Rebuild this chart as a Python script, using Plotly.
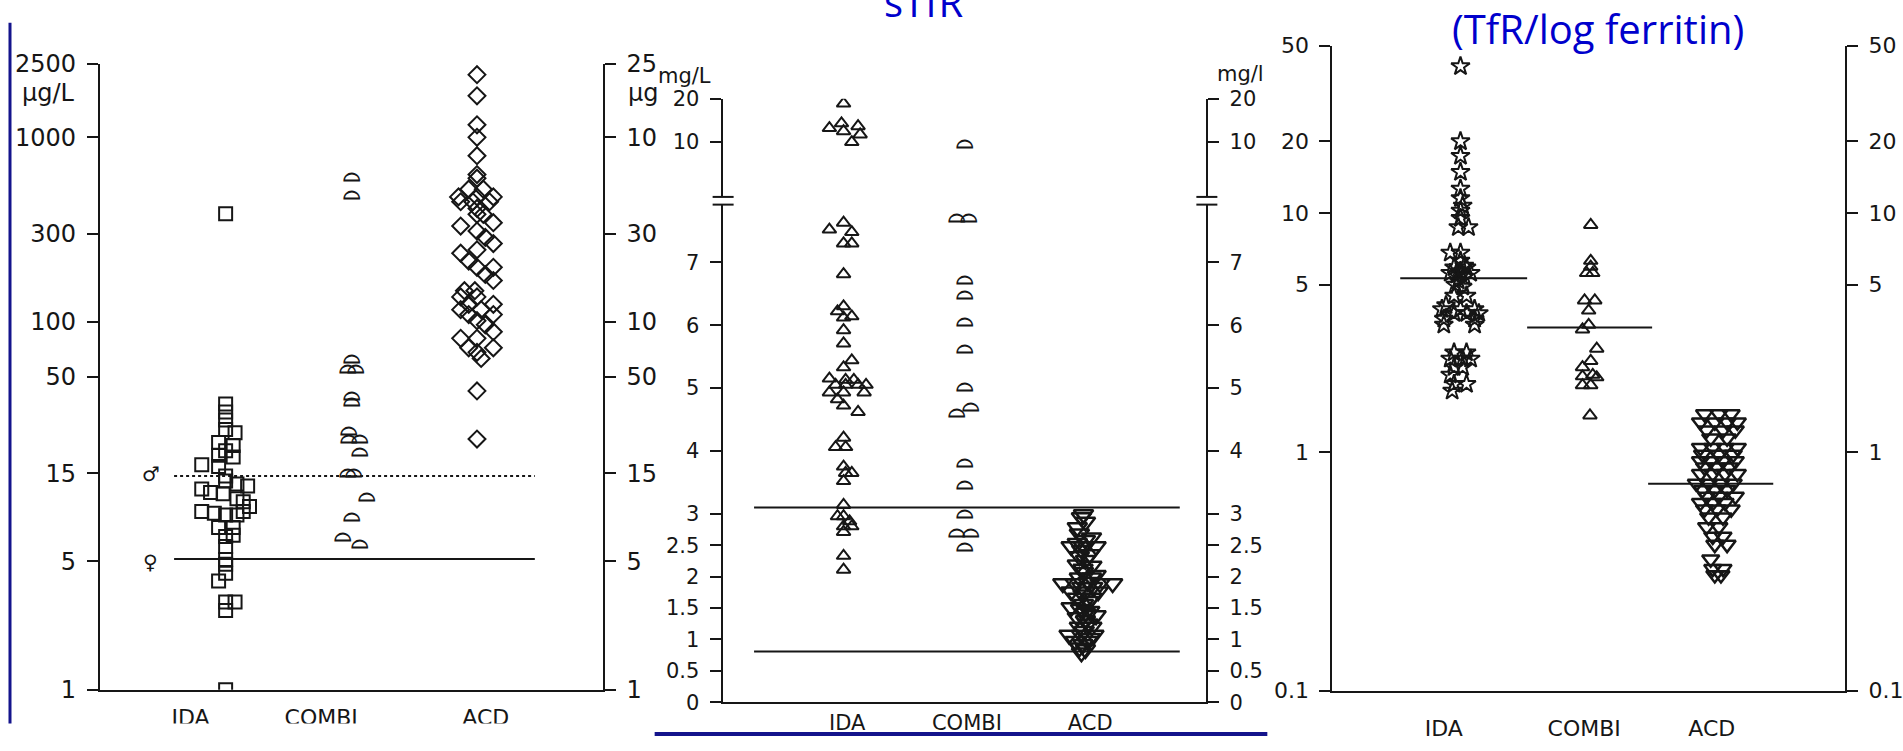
import math
import plotly.graph_objects as go

W, H = 1903, 751

GROUPS = ["IDA", "COMBI", "ACD"]

# ---------- Serum ferritin (µg/L), log scale ----------
fer_ida = [385, 35.7, 32.3, 29.2, 25.9, 24.9, 22.0, 21.2, 19.9, 18.8, 18.4, 16.7, 16.3,
           14.5, 13.6, 13.1, 12.8, 12.3, 11.8, 11.6, 10.9, 10.5, 9.9, 9.3, 9.1, 8.9, 8.9,
           9.3, 7.6, 7.6, 6.9, 6.8, 6.0, 5.1, 4.8, 4.3, 3.9, 3.0, 3.0, 2.7, 1.0]
fer_ida_dx = [0, 0, 0, 0, 0, 0.075, -0.056, 0.06, 0, -0.056, 0.06, -0.19, -0.056,
              0, 0, 0.09, 0.175, -0.19, -0.12, -0.02, 0.09, 0.14, 0.19, -0.19, -0.09, 0, 0.09,
              0.14, -0.056, 0.06, 0.06, 0, 0, 0, 0, 0, -0.056, 0, 0.075, 0, 0]
fer_combi = [617, 498, 63.8, 56.6, 56.6, 40.3, 37.1, 25.8, 23.4, 23.4, 20.0, 15.4, 15.4,
             11.4, 8.8, 6.9, 6.3]
fer_combi_dx = [0, 0, 0, -0.03, 0.03, 0, 0, -0.02, -0.02, 0.064, 0.064, -0.03, 0.015,
                0.12, 0, -0.07, 0.064]
fer_acd = [2190, 1680, 1170, 1000, 795, 628, 600, 523, 523, 475, 475, 475, 447, 447, 447,
           411, 382, 382, 344, 330, 310, 286, 265, 245, 235, 213, 197, 197, 180, 167,
           147, 147, 136, 136, 124, 124, 116, 116, 109, 109, 101, 96, 88, 81, 81, 72, 72,
           68, 63, 42, 23]
fer_acd_dx = [0, 0, 0, 0, 0, 0, 0, -0.066, 0.05, -0.147, 0, 0.13, -0.13, -0.033, 0.1,
              0, 0, 0.05, 0.13, -0.13, 0, 0.066, 0.13, 0, -0.13, -0.066, 0, 0.13, 0.066, 0.13,
              -0.1, -0.017, -0.13, 0, -0.066, 0.13, -0.13, 0.033, -0.066, 0.13, 0, 0.066, 0.13,
              -0.13, 0, -0.066, 0.13, 0, 0.033, 0, 0]
fer_ticks = [2500, 1000, 300, 100, 50, 15, 5, 1]
fer_ticks_right = ["25", "10", "30", "10", "50", "15", "5", "1"]
fer_cut_male = 14.5
fer_cut_female = 5.14
fer_cut_x = [0.59, 3.46]
fer_label_x = [0.72, 1.76, 3.07]

# ---------- sTfR (mg/L), broken axis ----------
stfr_ida = [18.5, 13.5, 12.9, 12.5, 11.9, 11.3, 10.0,
            7.63, 7.52, 7.48, 7.3, 7.3, 6.81, 6.3, 6.22, 6.14, 6.12, 5.92, 5.71, 5.44, 5.33,
            5.15, 5.13, 5.13, 5.05, 5.05, 5.05, 5.05, 4.93, 4.93, 4.93, 4.82, 4.72, 4.62,
            4.21, 4.06, 4.06, 3.75, 3.65, 3.65, 3.52, 3.14, 2.96, 2.96, 2.88, 2.8, 2.8,
            2.71, 2.33, 2.11]
stfr_ida_dx = [0, -0.017, 0.12, -0.117, 0, 0.137, 0.068,
               0, -0.117, 0.068, 0, 0.068, 0, 0, -0.05, 0.068, 0, 0, 0, 0.068, 0,
               -0.117, 0.017, 0.085, -0.066, 0.017, 0.12, 0.186, -0.117, 0, 0.17, -0.05, 0, 0.12,
               0, -0.066, 0.017, 0, 0.017, 0.068, 0, 0, -0.05, 0, 0.05, 0, 0.068,
               0, 0, 0]
stfr_combi = [10.0, 7.73, 7.73, 6.74, 6.51, 6.08, 5.64, 5.04, 4.72, 4.62, 3.83, 3.48,
              3.02, 2.71, 2.71, 2.5]
stfr_combi_dx = [0, -0.07, 0.034, 0, 0, 0, 0, 0, 0.05, -0.07, 0, 0, 0, -0.07, 0.05, 0]
stfr_acd = [2.99, 2.94, 2.87, 2.78, 2.68, 2.62, 2.58, 2.53, 2.48, 2.48, 2.48, 2.42, 2.35,
            2.32, 2.26, 2.19, 2.17, 2.12, 2.07, 2.02, 1.98, 1.98, 1.91, 1.89, 1.89, 1.89,
            1.89, 1.83, 1.83, 1.76, 1.76, 1.76, 1.71, 1.66, 1.66, 1.61, 1.56, 1.51, 1.48,
            1.45, 1.42, 1.38, 1.35, 1.30, 1.25, 1.20, 1.20, 1.13, 1.07, 1.07, 1.07, 1.02,
            0.97, 0.97, 0.92, 0.87, 0.84, 0.79]
stfr_acd_dx = [-0.016, -0.033, 0, -0.067, -0.05, 0.05, 0, -0.067, -0.118, -0.016, 0.088,
               -0.03, 0.036, -0.05, 0, -0.067, 0.053, -0.02, -0.016, 0.088, -0.05, 0.05,
               0.019, -0.187, -0.084, 0.12, 0.225, -0.03, 0.06, -0.118, 0, 0.105, -0.02,
               -0.067, 0.053, 0.03, -0.016, -0.118, -0.04, 0.036, 0, 0.088, -0.067, 0,
               0.02, -0.05, 0.053, -0.01, -0.135, -0.033, 0.07, 0.04, -0.084, 0.019, -0.02,
               -0.05, 0, -0.033]
stfr_break = 8.0
stfr_low_ticks = [0, 0.5, 1, 1.5, 2, 2.5, 3, 4, 5, 6, 7]
stfr_high_ticks = [10, 20]
stfr_cut_high = 3.10
stfr_cut_low = 0.81
stfr_cut_x = [0.26, 3.78]
stfr_label_x = [1.03, 2.02, 3.04]

# ---------- sTfR index (TfR / log ferritin), log scale ----------
ratio_ida = [41, 19.9, 17.3, 14.8, 12.6, 11.5, 10.7, 10.2, 9.5, 8.7, 8.7, 6.8, 6.8, 6.3,
             6.0, 5.9, 5.9, 5.7, 5.6, 5.6, 5.6, 5.5, 5.4, 5.2, 5.0, 4.9, 4.5, 4.5, 4.1,
             3.95, 3.95, 3.95, 3.8, 3.8, 3.8, 3.6, 3.6, 3.4, 3.4, 2.6, 2.6, 2.45, 2.45,
             2.45, 2.26, 2.26, 2.1, 1.92, 1.92, 1.8]
ratio_ida_dx = [0, 0, 0, 0, 0, 0, 0.017, 0, 0, -0.017, 0.063, -0.08, 0, 0,
                0.03, -0.05, 0.047, 0, -0.08, 0, 0.079, -0.03, 0.03, -0.017, -0.04, 0.017,
                -0.05, 0.047, -0.113, -0.145, 0, 0.11, -0.05, 0.047, 0.143, -0.13, 0.11,
                -0.13, 0.11, -0.05, 0.047, -0.08, 0.017, 0.079, -0.05, 0.017, -0.08, -0.05,
                0.047, -0.065]
ratio_combi = [8.9, 6.3, 5.95, 5.6, 5.6, 4.3, 4.3, 3.9, 3.4, 3.25, 2.7, 2.4, 2.26, 2.1,
               2.07, 2.05, 1.9, 1.9, 1.42]
ratio_combi_dx = [0.016, 0.016, 0.016, -0.016, 0.032, -0.032, 0.048, 0, 0, -0.048, 0.063,
                  0.016, -0.048, 0.032, -0.048, 0.063, -0.048, 0.016, 0.01]
ratio_acd = [1.44, 1.44, 1.44, 1.33, 1.33, 1.33, 1.33, 1.23, 1.23, 1.23, 1.14, 1.14,
             1.04, 1.04, 1.04, 1.04, 0.975, 0.975, 0.975, 0.916, 0.916, 0.916, 0.916,
             0.861, 0.861, 0.861, 0.81, 0.81, 0.81, 0.81, 0.737, 0.737, 0.737, 0.737,
             0.692, 0.692, 0.692, 0.65, 0.65, 0.65, 0.612, 0.612, 0.612, 0.575, 0.575,
             0.575, 0.532, 0.532, 0.485, 0.485, 0.442, 0.442, 0.409, 0.409, 0.355, 0.324,
             0.324, 0.305, 0.305]
ratio_acd_dx = [-0.096, 0.016, 0.112, -0.128, -0.016, 0.08, 0.16, -0.08, 0.048, 0.144,
                -0.048, 0.08, -0.128, -0.032, 0.064, 0.16, -0.112, 0.016, 0.128, -0.128,
                -0.048, 0.048, 0.144, -0.096, 0, 0.096, -0.128, -0.032, 0.064, 0.16, -0.16,
                -0.064, 0.032, 0.128, -0.112, -0.016, 0.08, -0.08, 0.016, 0.144, -0.128,
                -0.032, 0.064, -0.096, 0, 0.112, -0.064, 0.048, -0.08, 0.016, -0.032,
                0.048, -0.016, 0.08, -0.048, -0.032, 0.048, -0.016, 0.032]
ratio_ticks = [50, 20, 10, 5, 1, 0.1]
ratio_median = {"IDA": (5.32, [0.53, 1.52]), "COMBI": (3.31, [1.52, 2.495]),
                "ACD": (0.735, [2.464, 3.44])}
ratio_label_x = [0.87, 1.965, 2.96]

# ---------- layout geometry (pixels) ----------
P1 = dict(left=100, right=603, top=52, bottom=702)
P2 = dict(left=723, right=1207, top=88, gap_top=190, gap_bottom=198, bottom=715)
P3 = dict(left=1333, right=1846, top=33, bottom=703)

INK = "#161616"
BLUE_TXT = "#0000cc"
BLUE_LINE = "#14148c"
FONT = "DejaVu Sans"


def fx(p):
    return p / W


def fy(p):
    return 1 - p / H


def xs(center, dx):
    return [center + d for d in dx]


fig = go.Figure()


def pts(x, y, xa, ya, symbol, size, lw=2):
    fig.add_trace(go.Scatter(
        x=x, y=y, xaxis=xa, yaxis=ya, mode="markers", showlegend=False, hoverinfo="skip",
        marker=dict(symbol=symbol, size=size, color=INK, line=dict(color=INK, width=lw))))


def domes(x, y, xa, ya, size):
    fig.add_trace(go.Scatter(
        x=x, y=y, xaxis=xa, yaxis=ya, mode="text", text=["\u2313"] * len(y),
        textposition="middle center", showlegend=False, hoverinfo="skip",
        textfont=dict(family=FONT, size=size, color=INK, weight="bold")))


def hline(xr, v, xa, ya, dash="solid"):
    fig.add_trace(go.Scatter(
        x=xr, y=[v, v], xaxis=xa, yaxis=ya, mode="lines", showlegend=False,
        hoverinfo="skip", line=dict(color=INK, width=2, dash=dash)))


def axis_holder(xa, ya):
    # empty trace so the mirrored right-hand scale is drawn
    fig.add_trace(go.Scatter(x=[None], y=[None], xaxis=xa, yaxis=ya, mode="markers",
                             showlegend=False, hoverinfo="skip"))


# panel 1: ferritin
pts(xs(1, fer_ida_dx), fer_ida, "x", "y", "square-open", 13)
domes(xs(2, fer_combi_dx), fer_combi, "x", "y", 22)
pts(xs(3, fer_acd_dx), fer_acd, "x", "y", "diamond-open", 13)
hline(fer_cut_x, fer_cut_male, "x", "y", dash="3px,3px")
hline(fer_cut_x, fer_cut_female, "x", "y")
axis_holder("x", "y2")


# panel 2: sTfR, values above the break go on the upper axis
def split(vals, dx, center):
    lo = [(center + d, v) for v, d in zip(vals, dx) if v < stfr_break]
    hi = [(center + d, v) for v, d in zip(vals, dx) if v >= stfr_break]
    return lo, hi


for vals, dx, c, kind in [(stfr_ida, stfr_ida_dx, 1, "tri"),
                          (stfr_combi, stfr_combi_dx, 2, "dome"),
                          (stfr_acd, stfr_acd_dx, 3, "inv")]:
    lo, hi = split(vals, dx, c)
    for part, ya in [(lo, "y3"), (hi, "y5")]:
        if not part:
            continue
        px_, py_ = [p[0] for p in part], [p[1] for p in part]
        if kind == "tri":
            pts(px_, py_, "x2", ya, "triangle-up-open", 12)
        elif kind == "dome":
            domes(px_, py_, "x2", ya, 22)
        else:
            pts(px_, py_, "x2", ya, "triangle-down-open", 17, lw=2.5)
hline(stfr_cut_x, stfr_cut_high, "x2", "y3")
hline(stfr_cut_x, stfr_cut_low, "x2", "y3")
axis_holder("x2", "y4")
axis_holder("x2", "y6")

# panel 3: TfR / log ferritin
pts(xs(1, ratio_ida_dx), ratio_ida, "x3", "y7", "star-open", 14)
pts(xs(2, ratio_combi_dx), ratio_combi, "x3", "y7", "triangle-up-open", 12)
pts(xs(3, ratio_acd_dx), ratio_acd, "x3", "y7", "triangle-down-open", 15, lw=2.5)
for g in GROUPS:
    v, xr = ratio_median[g]
    hline(xr, v, "x3", "y7")
axis_holder("x3", "y8")

# ---------- axes ----------
axis_common = dict(showline=True, linewidth=2, linecolor=INK, showgrid=False,
                   zeroline=False, fixedrange=True)
yax_common = dict(axis_common, ticks="outside", ticklen=11, tickwidth=2, tickcolor=INK,
                  ticklabelstandoff=6)


def xaxis(dom, anchor, labels_x, standoff, size):
    return dict(axis_common, domain=[fx(dom[0]), fx(dom[1])], anchor=anchor, range=[0, 4],
                ticks="", tickvals=labels_x, ticktext=GROUPS, ticklabelstandoff=standoff,
                tickfont=dict(family=FONT, size=size, color=INK))


fer_rng = [0, math.log10(2500)]
px_per_unit = 65.3
low_rng = [0, (P2["bottom"] - P2["gap_bottom"]) / px_per_unit]
px_per_dec = 149.5
hi_rng = [math.log10(20) - (P2["gap_top"] - P2["top"]) / px_per_dec, math.log10(20)]
ratio_rng = [-1, math.log10(50)]


def fmt(v):
    return "%g" % v


def tfont(size):
    return dict(family=FONT, size=size, color=INK)


fig.update_layout(
    width=W, height=H, autosize=False, margin=dict(l=0, r=0, t=0, b=0),
    paper_bgcolor="white", plot_bgcolor="rgba(0,0,0,0)",
    xaxis=xaxis((P1["left"], P1["right"]), "y", fer_label_x, 7, 22),
    yaxis=dict(yax_common, domain=[fy(P1["bottom"]), fy(P1["top"])], anchor="x",
               type="log", range=fer_rng, tickvals=fer_ticks,
               ticktext=[fmt(v) for v in fer_ticks], tickfont=tfont(24)),
    yaxis2=dict(yax_common, overlaying="y", side="right", anchor="x", type="log",
                range=fer_rng, tickvals=fer_ticks, ticktext=fer_ticks_right,
                tickfont=tfont(24)),
    xaxis2=xaxis((P2["left"], P2["right"]), "y3", stfr_label_x, 0, 21),
    yaxis3=dict(yax_common, domain=[fy(P2["bottom"]), fy(P2["gap_bottom"])], anchor="x2",
                range=low_rng, tickvals=stfr_low_ticks,
                ticktext=[fmt(v) for v in stfr_low_ticks], tickfont=tfont(21)),
    yaxis4=dict(yax_common, overlaying="y3", side="right", anchor="x2", range=low_rng,
                tickvals=stfr_low_ticks, ticktext=[fmt(v) for v in stfr_low_ticks],
                tickfont=tfont(21)),
    yaxis5=dict(yax_common, domain=[fy(P2["gap_top"]), fy(P2["top"])], anchor="x2",
                type="log", range=hi_rng, tickvals=stfr_high_ticks,
                ticktext=[fmt(v) for v in stfr_high_ticks], tickfont=tfont(21)),
    yaxis6=dict(yax_common, overlaying="y5", side="right", anchor="x2", type="log",
                range=hi_rng, tickvals=stfr_high_ticks,
                ticktext=[fmt(v) for v in stfr_high_ticks], tickfont=tfont(21)),
    xaxis3=xaxis((P3["left"], P3["right"]), "y7", ratio_label_x, 17, 22),
    yaxis7=dict(yax_common, domain=[fy(P3["bottom"]), fy(P3["top"])], anchor="x3",
                type="log", range=ratio_rng, tickvals=ratio_ticks,
                ticktext=[fmt(v) for v in ratio_ticks], tickfont=tfont(22)),
    yaxis8=dict(yax_common, overlaying="y7", side="right", anchor="x3", type="log",
                range=ratio_rng, tickvals=ratio_ticks,
                ticktext=[fmt(v) for v in ratio_ticks], tickfont=tfont(22)),
)

# ---------- decorations ----------
shapes = []
# axis-break marks on both sides of the sTfR panel
for xc in (P2["left"], P2["right"]):
    for yb in (P2["gap_top"], P2["gap_bottom"]):
        shapes.append(dict(type="line", xref="paper", yref="paper",
                           x0=fx(xc - 10), x1=fx(xc + 11), y0=fy(yb), y1=fy(yb),
                           line=dict(color=INK, width=2)))
# blank strip under the ferritin panel
shapes.append(dict(type="rect", xref="paper", yref="paper", x0=0, x1=fx(652),
                   y0=0, y1=fy(737), fillcolor="white", line=dict(width=0), layer="above"))
# slide rules in blue
shapes.append(dict(type="line", xref="paper", yref="paper", x0=fx(10), x1=fx(10),
                   y0=fy(9), y1=fy(737), line=dict(color=BLUE_LINE, width=3)))
shapes.append(dict(type="line", xref="paper", yref="paper", x0=fx(655), x1=fx(1268),
                   y0=fy(748), y1=fy(748), line=dict(color=BLUE_LINE, width=4)))
fig.update_layout(shapes=shapes)

ann = []


def note(text, x, y, size, xanchor="center", yanchor="middle", color=INK, family=FONT):
    ann.append(dict(text=text, x=fx(x), y=fy(y), xref="paper", yref="paper",
                    showarrow=False, xanchor=xanchor, yanchor=yanchor,
                    font=dict(family=family, size=size, color=color)))


note("\u00b5g/L", 77, 82, 24, xanchor="right")
note("\u00b5g", 626, 82, 24, xanchor="left")
note("mg/L", 656, 64, 21, xanchor="left")
note("mg/l", 1216, 62, 21, xanchor="left")
note("\u2642", 151, 478, 20)
note("\u2640", 151, 569, 20)
note("sTfR", 924, 18, 40, yanchor="bottom", color=BLUE_TXT, family="Open Sans")
note("(TfR/log ferritin)", 1599, 15, 40, color=BLUE_TXT, family="Open Sans")
fig.update_layout(annotations=ann)

fig.write_html("out.html")
